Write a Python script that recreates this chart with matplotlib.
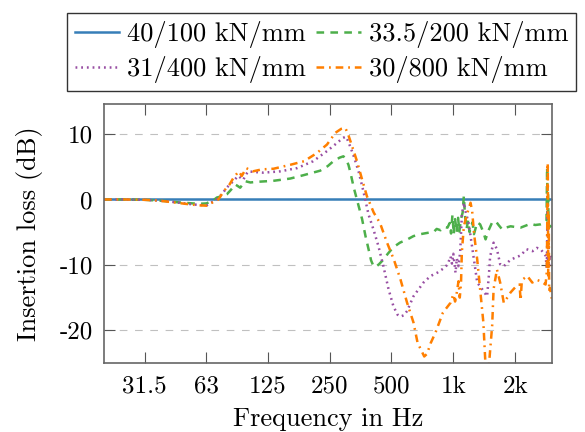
import matplotlib
matplotlib.use("Agg")
import matplotlib.pyplot as plt
from matplotlib.ticker import NullLocator

# ---- data ----
labels = ["40/100 kN/mm", "33.5/200 kN/mm", "31/400 kN/mm", "30/800 kN/mm"]
colors = ["#377eb8", "#4daf4a", "#984ea3", "#ff7f00"]

x_ticks = [31.5, 63, 125, 250, 500, 1000, 2000]
x_ticklabels = ["31.5", "63", "125", "250", "500", "1k", "2k"]
y_ticks = [-20, -10, 0, 10]
y_ticklabels = ["-20", "-10", "0", "10"]

f_blue = [20, 3020]
il_blue = [0, 0]

f_green = [20, 25, 31.5, 36, 40, 46.5, 54, 58.7, 63, 66, 69.5,
           70.8, 75, 79.2, 83, 86.9, 89, 91.9, 94.5, 97.2, 103, 110.9, 133, 161, 186,
           225, 245, 261, 280, 292, 300, 309, 316, 328, 345, 360, 374, 387, 398, 409,
           420, 435, 457, 480, 511, 550, 598, 640, 692, 750, 801, 830, 867, 900, 937,
           960, 975, 990, 1005, 1020, 1040, 1055, 1070, 1090, 1110, 1125, 1140, 1160,
           1180, 1200, 1213, 1240, 1260, 1307, 1350, 1400, 1435, 1480, 1540, 1606,
           1660, 1731, 1800, 1899, 2000, 2125, 2250, 2378, 2500, 2660, 2780, 2840,
           2860, 2875, 2890, 2905, 2930, 3020]
il_green = [0, 0, -0.05, -0.15, -0.25, -0.45, -0.6, -0.65, -0.6, -0.3, 0.1,
            0.3, 0.5, 0.8, 1.5, 2.3, 2.1, 1.8, 2.3, 2.8, 2.6, 2.7, 2.85, 3.2, 3.7,
            4.4, 5.1, 5.85, 6.4, 6.6, 6.2, 5.3, 4.1, 1.8, -0.8, -3.0, -5.6, -7.6, -9.3, -10.2,
            -10.3, -9.9, -9.2, -8.3, -7.3, -6.6, -6.1, -5.6, -5.3, -5.1, -5.0, -4.5, -4.7, -4.2, -4.3,
            -3.6, -5.2, -2.4, -5.3, -3.0, -5.0, -2.8, -4.9, -3.0, -2.0, 0.5, -2.5, -4.5,
            -3.2, -5.0, -4.3, -3.5, -5.3, -3.5, -3.8, -5.0, -6.1, -4.8, -3.6, -3.3,
            -3.9, -4.6, -4.3, -4.1, -4.2, -4.3, -4.0, -3.7, -3.9, -3.8, -3.6, -3.3,
            4.9, -4.5, 1.0, -3.5, -4.2, -4.0]

f_purple = [20, 25, 31.5, 36, 40, 46.5, 54, 58.7, 63, 66, 69.5,
            72, 74.9, 79, 85, 89.9, 92.5, 95.1, 98, 100.6, 108, 119, 144, 174, 208,
            243, 272, 290, 300, 306, 316, 328, 346, 365, 387, 409, 432, 457, 484, 511,
            535, 553, 575, 596, 640, 716, 775, 835, 900, 940, 969, 985, 1000, 1015,
            1025, 1040, 1060, 1080, 1100, 1125, 1150, 1185, 1213, 1260, 1307, 1380,
            1460, 1490, 1510, 1570, 1630, 1690, 1760, 1900, 2125, 2270, 2430, 2550,
            2660, 2810, 2850, 2870, 2885, 2900, 2920, 2950, 3020]
il_purple = [0, 0, -0.05, -0.15, -0.25, -0.5, -0.75, -0.85, -0.9, -0.5, -0.2,
             0.3, 0.8, 1.8, 2.8, 3.6, 3.3, 3.0, 3.8, 4.3, 4.2, 4.1, 4.3, 4.8, 5.85,
             7.4, 8.65, 9.4, 9.6, 9.1, 8.0, 6.6, 4.3, 1.3, -2.3, -4.6, -7.1, -10.2, -13.7, -16.3,
             -17.6, -17.9, -17.7, -17.05, -14.8, -12.7, -11.7, -11.2, -10.5, -9.9, -8.7, -9.8, -8.3, -10.0,
             -11.2, -9.0, -10.2, -8.0, -2.5, -0.5, -2.0, -3.5, -5.6, -9.2, -12.7, -13.7,
             -14.8, -11.5, -8.7, -6.6, -7.6, -9.9, -10.2, -9.2, -8.55, -7.6, -7.9, -7.4,
             -7.6, -8.6, -10.5, -2.0, -9.5, -7.0, -10.0, -8.5, -9.0]

f_orange = [20, 25, 31.5, 36, 40, 46.5, 54, 58.7, 63, 66, 69.5,
            72, 76.6, 81.6, 85.2, 90.4, 93.6, 98.3, 106, 117, 133.5, 161, 188, 217,
            243, 267, 285, 298, 306, 316, 340, 360, 380, 410, 440, 476, 514, 553, 596,
            640, 670, 722, 745, 775, 820, 890, 969, 1000, 1020, 1040, 1060, 1075, 1090,
            1100, 1125, 1160, 1185, 1213, 1235, 1260, 1307, 1350, 1400, 1440, 1480,
            1520, 1545, 1570, 1630, 1690, 1760, 1830, 1900, 2030, 2100, 2125, 2150,
            2180, 2290, 2420, 2550, 2660, 2810, 2850, 2880, 2895, 2910, 2925, 2950, 3020]
il_orange = [0, 0, -0.05, -0.15, -0.3, -0.55, -0.8, -0.9, -0.95, -0.6, -0.25,
             0.0, 1.3, 2.3, 3.3, 4.3, 3.6, 4.8, 4.3, 4.6, 4.7, 5.3, 5.85, 7.1,
             8.4, 10.2, 10.8, 10.95, 10.2, 8.9, 5.85, 3.05, 0.5, -2.0, -3.6, -6.6, -9.2, -12.2, -15.8,
             -18.8, -21.9, -24.0, -23.6, -22.0, -20.3, -17.3, -15.8, -14.5, -15.6, -14.2, -12.5, -15.0, -12.8,
             -8.1, -4.1, -2.5, -1.5, -0.5, -1.8, -5.1, -9.2, -13.7, -18.8, -26.5, -26.5,
             -22.0, -19.3, -13.7, -10.7, -12.7, -15.8, -15.0, -14.2, -13.2, -13.0, -15.4, -12.8,
             -12.2, -11.7, -12.7, -12.3, -12.5, -13.0, -11.0, 5.6, -12.0, -2.0, -14.0, -13.5, -15.3]

# ---- style ----
plt.rcParams["font.family"] = ["cmr10", "DejaVu Serif"]
plt.rcParams["font.size"] = 18
plt.rcParams["axes.unicode_minus"] = False
plt.rcParams["lines.scale_dashes"] = False

fig = plt.figure(figsize=(5.85, 4.32), dpi=100)
ax = fig.add_axes([0.1778, 0.1597, 0.7658, 0.5996])

lw = 1.8
ax.plot(f_blue, il_blue, color=colors[0], lw=lw, label=labels[0])
ax.plot(f_green, il_green, color=colors[1], lw=lw, dashes=(5.5, 4.5), label=labels[1])
ax.plot(f_purple, il_purple, color=colors[2], lw=lw, dashes=(1.3, 2.8), label=labels[2])
ax.plot(f_orange, il_orange, color=colors[3], lw=lw, dashes=(5.5, 3.5, 1.3, 3.5), label=labels[3])

ax.set_xscale("log")
ax.set_xlim(20, 3020)
ax.set_ylim(-25, 14.6)
ax.set_xticks(x_ticks)
ax.set_xticklabels(x_ticklabels)
ax.xaxis.set_minor_locator(NullLocator())
ax.set_yticks(y_ticks)
ax.set_yticklabels(y_ticklabels)

ax.tick_params(direction="in", length=8, width=0.8, color="#555555",
               top=True, right=True, labelsize=18)
ax.tick_params(axis="x", pad=9)
ax.tick_params(axis="y", pad=8)
for s in ax.spines.values():
    s.set_color("#666666")
    s.set_linewidth(1.2)

ax.grid(axis="y", color="#c0c0c0", lw=0.8, dashes=(5.5, 5.5))
ax.set_axisbelow(True)

ax.set_xlabel("Frequency in Hz", fontsize=19, labelpad=7)
ax.set_ylabel("Insertion loss (dB)", fontsize=19, labelpad=12)

handles, labs = ax.get_legend_handles_labels()
order = [0, 2, 1, 3]
leg = ax.legend([handles[i] for i in order], [labs[i] for i in order],
                ncol=2, loc="lower center", bbox_to_anchor=(0.485, 1.05),
                fontsize=19, frameon=True, fancybox=False, edgecolor="black",
                handlelength=1.7, handletextpad=0.28, columnspacing=0.4,
                labelspacing=0.3, borderpad=0.3, borderaxespad=0)
leg.get_frame().set_linewidth(1.0)

fig.savefig("out.png", dpi=100)
